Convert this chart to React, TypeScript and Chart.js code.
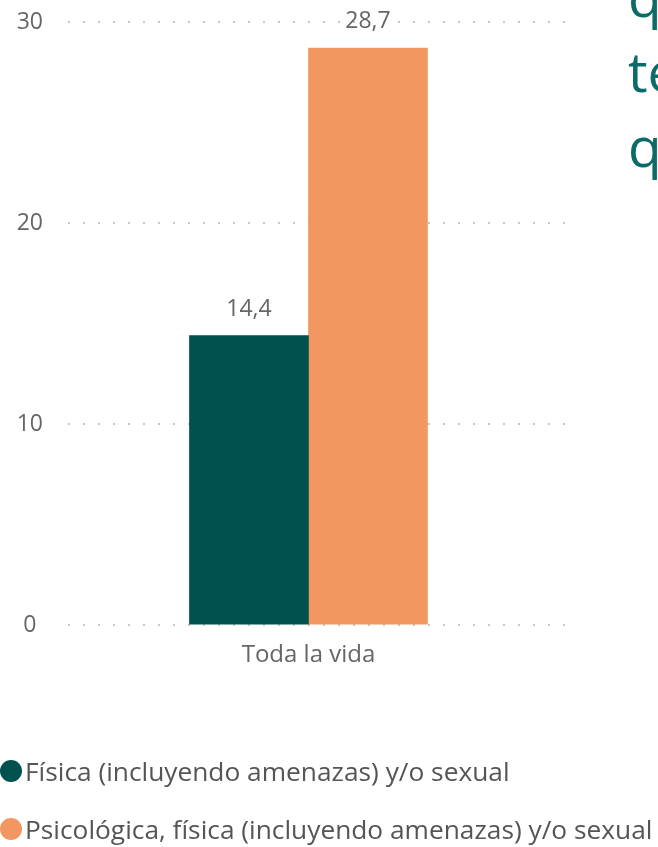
import React, { useEffect, useRef } from "react";
import { Chart, registerables } from "chart.js";

Chart.register(...registerables);

const categories = ["Toda la vida"];
const seriesNames = [
  "Física (incluyendo amenazas) y/o sexual",
  "Psicológica, física (incluyendo amenazas) y/o sexual",
];
const fisicaValues = [14.4];
const psicologicaValues = [28.7];
const seriesColors = ["#01514E", "#F29762"];
const yTickValues = [0, 10, 20, 30];
const titleFragments = ["q", "te", "q"];

const FONT = '"Open Sans", "Noto Sans", sans-serif';
const TEXT_COLOR = "#666666";

const dataLabelPlugin = {
  id: "dataLabels",
  afterDatasetsDraw(chart: any) {
    const ctx = chart.ctx;
    ctx.save();
    ctx.font = `23px ${FONT}`;
    ctx.fillStyle = TEXT_COLOR;
    ctx.textAlign = "center";
    ctx.textBaseline = "alphabetic";
    chart.data.datasets.forEach((ds: any, di: number) => {
      const meta = chart.getDatasetMeta(di);
      meta.data.forEach((bar: any, i: number) => {
        const v = ds.data[i].y as number;
        ctx.fillText(v.toFixed(1).replace(".", ","), bar.x, bar.y - 20);
      });
    });
    ctx.restore();
  },
};

export default function App() {
  const canvasRef = useRef<HTMLCanvasElement | null>(null);

  useEffect(() => {
    if (!canvasRef.current) return;
    const toPoints = (arr: number[]) => arr.map((v, i) => ({ x: i, y: v }));
    const chart = new Chart(canvasRef.current, {
      type: "bar",
      data: {
        datasets: [
          {
            label: seriesNames[0],
            data: toPoints(fisicaValues),
            backgroundColor: seriesColors[0],
            barThickness: 119,
          },
          {
            label: seriesNames[1],
            data: toPoints(psicologicaValues),
            backgroundColor: seriesColors[1],
            barThickness: 119,
          },
        ],
      },
      options: {
        animation: false,
        responsive: false,
        maintainAspectRatio: false,
        layout: { padding: { top: 22, right: 85, bottom: 169, left: 0 } },
        plugins: {
          legend: { display: false },
          tooltip: { enabled: false },
        },
        scales: {
          x: {
            type: "linear",
            bounds: "data",
            offset: false,
            min: -0.5,
            max: 0.55,
            grid: { display: false },
            border: { display: false },
            afterBuildTicks: (scale: any) => {
              scale.ticks = categories.map((_, i) => ({ value: i }));
            },
            ticks: {
              font: { family: FONT, size: 24 },
              color: TEXT_COLOR,
              padding: 8,
              callback: (_v: any, i: number) => categories[i] ?? "",
            },
          },
          y: {
            min: 0,
            max: 30,
            afterBuildTicks: (scale: any) => {
              scale.ticks = yTickValues.map((v) => ({ value: v }));
            },
            afterFit: (scale: any) => {
              scale.width = 68;
            },
            grid: {
              color: "#C8C8C8",
              lineWidth: 2,
              drawTicks: true,
              tickLength: 25,
              tickWidth: 0,
            },
            border: { display: false, dash: [2, 13] },
            ticks: {
              font: { family: FONT, size: 23 },
              color: TEXT_COLOR,
              padding: 0,
              crossAlign: "center",
            },
          },
        },
      },
      plugins: [dataLabelPlugin],
    } as any);
    return () => chart.destroy();
  }, []);

  return (
    <div
      style={{
        position: "absolute",
        left: 0,
        top: 0,
        width: 658,
        height: 847,
        overflow: "hidden",
        background: "#fff",
        fontFamily: FONT,
      }}
    >
      <canvas ref={canvasRef} width={658} height={847} style={{ position: "absolute", left: 0, top: 0 }} />
      <div
        style={{
          position: "absolute",
          left: 628,
          top: -42,
          fontSize: 55,
          lineHeight: "75px",
          color: "#0A6B67",
          whiteSpace: "pre",
        }}
      >
        {titleFragments.map((t, i) => (
          <div key={i}>{t}</div>
        ))}
      </div>
      {seriesNames.map((name, i) => (
        <div
          key={name}
          style={{
            position: "absolute",
            left: 0,
            top: 771 + i * 58 - 18,
            height: 36,
            display: "flex",
            alignItems: "center",
            whiteSpace: "nowrap",
            fontSize: 26.3,
            color: "#555555",
          }}
        >
          <span
            style={{
              display: "inline-block",
              width: 22,
              height: 22,
              borderRadius: "50%",
              background: seriesColors[i],
              marginRight: 3,
            }}
          />
          <span>{name}</span>
        </div>
      ))}
    </div>
  );
}
